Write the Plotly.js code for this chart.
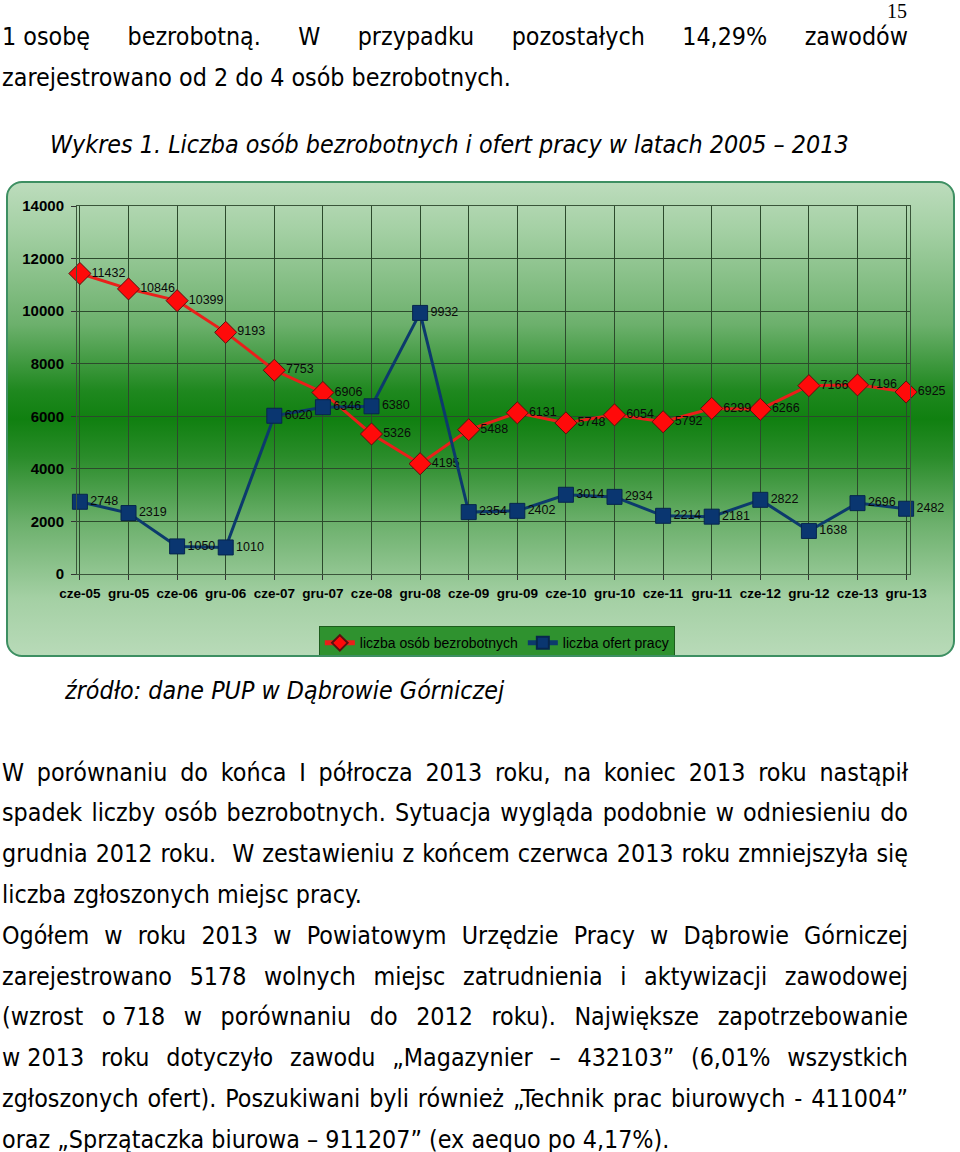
<!DOCTYPE html>
<html>
<head>
<meta charset="utf-8">
<script src="https://cdn.plot.ly/plotly-3.0.1.min.js"></script>
<style>
  html, body { margin: 0; padding: 0; background: #ffffff; }
  body { width: 960px; height: 1152px; position: relative; overflow: hidden; }
  .ln { position: absolute; left: 2px; width: 906px; font-family: "DejaVu Sans Condensed", "DejaVu Sans", sans-serif; font-stretch: condensed; font-size: 24.8px; line-height: 30px; color: #000; white-space: nowrap; }
  .j { text-align: justify; text-align-last: justify; white-space: normal; }
  .it { font-style: italic; }
  .nb { display: inline-block; white-space: nowrap; }
  #pg { position: absolute; left: 887px; top: 0px; font-family: "Liberation Serif", serif; font-size: 20px; }
  #chart { position: absolute; left: 6px; top: 181px; width: 949px; height: 476px; border: 2px solid #3d8f62; border-radius: 16px; box-sizing: border-box;
    background: linear-gradient(to bottom, #bcdcbc 0%, #a4d0a4 10%, #6cb06c 30%, #1f881f 44%, #108010 50%, #2a8c2a 58%, #6cb06c 72%, #a4d0a4 88%, #b8dab8 100%); overflow: hidden; }
</style>
</head>
<body>
<div id="pg">15</div>
<div class="ln j" style="top:22px;"><span class="nb">1 osobę</span> bezrobotną. W przypadku pozostałych 14,29% zawodów</div>
<div class="ln" style="top:63px;">zarejestrowano od 2 do 4 osób bezrobotnych.</div>
<div class="ln it" style="top:130px; left:50px;">Wykres 1. Liczba osób bezrobotnych i ofert pracy w latach 2005 – 2013</div>

<div id="chart"></div>

<div class="ln it" style="top:676px; left:65px;">źródło: dane PUP w Dąbrowie Górniczej</div>

<div class="ln j" style="top:758px;">W porównaniu do końca I półrocza 2013 roku, na koniec 2013 roku nastąpił</div>
<div class="ln j" style="top:798px;">spadek liczby osób bezrobotnych. Sytuacja wygląda podobnie w odniesieniu do</div>
<div class="ln j" style="top:839px;">grudnia 2012 roku.&nbsp; W zestawieniu z końcem czerwca 2013 roku zmniejszyła się</div>
<div class="ln" style="top:880px;">liczba zgłoszonych miejsc pracy.</div>
<div class="ln j" style="top:921px;">Ogółem w roku 2013 w Powiatowym Urzędzie Pracy w Dąbrowie Górniczej</div>
<div class="ln j" style="top:962px;">zarejestrowano 5178 wolnych miejsc zatrudnienia i aktywizacji zawodowej</div>
<div class="ln j" style="top:1002px;">(wzrost <span class="nb">o 718</span> w porównaniu do 2012 roku). Największe zapotrzebowanie</div>
<div class="ln j" style="top:1043px;"><span class="nb">w 2013</span> roku dotyczyło zawodu „Magazynier – 432103” (6,01% wszystkich</div>
<div class="ln j" style="top:1084px;">zgłoszonych ofert). Poszukiwani byli również „Technik prac biurowych - 411004”</div>
<div class="ln" style="top:1125px;">oraz „Sprzątaczka biurowa – 911207” (ex aequo po 4,17%).</div>

<script>
const categories = ["cze-05","gru-05","cze-06","gru-06","cze-07","gru-07","cze-08","gru-08","cze-09","gru-09","cze-10","gru-10","cze-11","gru-11","cze-12","gru-12","cze-13","gru-13"];
const unemployed = [11432,10846,10399,9193,7753,6906,5326,4195,5488,6131,5748,6054,5792,6299,6266,7166,7196,6925];
const jobOffers = [2748,2319,1050,1010,6020,6346,6380,9932,2354,2402,3014,2934,2214,2181,2822,1638,2696,2482];
const yTicks = [0,2000,4000,6000,8000,10000,12000,14000];

const labelFont = {family: "Liberation Sans, Arial, sans-serif", size: 12.5, color: "#0a0a0a"};

const traces = [
  {
    x: categories, y: unemployed, name: "liczba osób bezrobotnych",
    type: "scatter", mode: "lines+markers+text",
    text: unemployed.map(String), textposition: "middle right", textfont: labelFont,
    line: {color: "#ea1f1a", width: 3},
    marker: {symbol: "diamond", size: 17, color: "#ff0a0a", line: {color: "#5a1010", width: 1}},
    cliponaxis: false
  },
  {
    x: categories, y: jobOffers, name: "liczba ofert pracy",
    type: "scatter", mode: "lines+markers+text",
    text: jobOffers.map(String), textposition: "middle right", textfont: labelFont,
    line: {color: "#0c3a6c", width: 3},
    marker: {symbol: "square", size: 15, color: "#0a3670", line: {color: "#07264d", width: 1}},
    cliponaxis: false
  }
];

// the figure is taller than the visible box so the legend never pushes the margins;
// the box (overflow hidden) clips the unused strip at the bottom
const extra = 40;
const layout = {
  width: 945, height: 472 + extra,
  margin: {l: 69, r: 43, t: 23, b: 81 + extra},
  paper_bgcolor: "rgba(0,0,0,0)",
  plot_bgcolor: "rgba(0,0,0,0)",
  showlegend: true,
  legend: {
    orientation: "h", x: 0.504, xanchor: "center", y: -0.142, yanchor: "top",
    bgcolor: "#2f922f", bordercolor: "#1d5c1d", borderwidth: 1,
    font: {family: "Liberation Sans, Arial, sans-serif", size: 14, color: "#000"},
    itemsizing: "constant", itemwidth: 30, tracegroupgap: 0
  },
  xaxis: {
    type: "category", range: [-0.06, 17.08],
    showgrid: true, gridcolor: "#2c4a2c", gridwidth: 1,
    showline: true, linecolor: "#3a553a", linewidth: 1, mirror: true,
    ticks: "outside", ticklen: 5, tickcolor: "#333", ticklabelstandoff: 2,
    tickfont: {family: "Liberation Sans, Arial, sans-serif", size: 13.5, color: "#000", weight: "bold"},
    zeroline: false, fixedrange: true
  },
  yaxis: {
    range: [0, 14000], tickvals: yTicks, ticktext: yTicks.map(String),
    showgrid: true, gridcolor: "#2c4a2c", gridwidth: 1,
    showline: true, linecolor: "#3a553a", linewidth: 1, mirror: true,
    ticks: "outside", ticklen: 5, tickcolor: "#333", ticklabelstandoff: 4,
    tickfont: {family: "Liberation Sans, Arial, sans-serif", size: 15, color: "#000", weight: "bold"},
    zeroline: false, fixedrange: true
  },
  font: {family: "Liberation Sans, Arial, sans-serif"}
};

Plotly.newPlot("chart", traces, layout, {displayModeBar: false, staticPlot: true});
</script>
</body>
</html>
